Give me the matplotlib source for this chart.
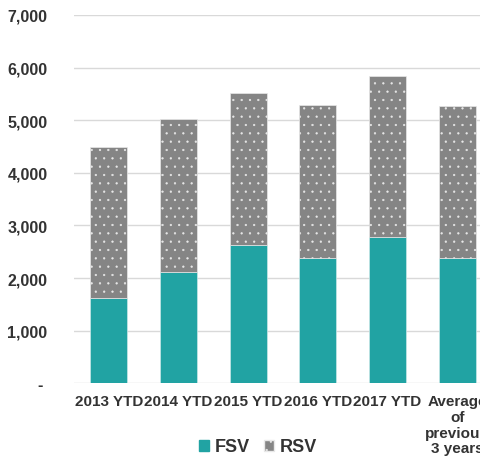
import matplotlib
matplotlib.use("Agg")
import matplotlib.pyplot as plt
from matplotlib.patches import Patch
import numpy as np

categories = ["2013 YTD", "2014 YTD", "2015 YTD", "2016 YTD", "2017 YTD",
              "Average\nof\nprevious\n3 years"]
fsv = [1623, 2117, 2637, 2378, 2789, 2377]
rsv = [2877, 2911, 2872, 2903, 3043, 2896]
yticks = [0, 1000, 2000, 3000, 4000, 5000, 6000, 7000]
ytick_labels = ["- ", "1,000", "2,000", "3,000", "4,000", "5,000", "6,000", "7,000"]

plt.rcParams['font.family'] = ['Liberation Sans', 'DejaVu Sans']
plt.rcParams['hatch.linewidth'] = 0.4
teal = "#21A3A3"
grey = "#858585"
txt = "#333333"

fig = plt.figure(figsize=(4.81, 4.64), dpi=100)
ax = fig.add_axes([74/481, 79.7/464, (492-74)/481, (448-79.7)/464])

x = np.arange(len(categories))
w = 0.53
ax.bar(x, fsv, width=w, color=teal, edgecolor="#c8e8e8", linewidth=0.5, zorder=3)
ax.bar(x, rsv, width=w, bottom=fsv, color=grey, edgecolor="#e8e8e8",
       hatch="..", linewidth=0.5, zorder=3)

ax.set_xlim(-0.5, len(categories) - 0.5)
ax.set_ylim(0, 7000)
ax.set_yticks(yticks)
ax.set_yticklabels(ytick_labels, fontweight="bold")
ax.set_xticks(x)
ax.set_xticklabels(categories, linespacing=1.15, va="top", fontweight="bold")
for s in ax.spines.values():
    s.set_visible(False)
ax.grid(axis="y", color="#d9d9d9", linewidth=1.0, zorder=0)
ax.tick_params(axis="y", length=0, pad=19, labelsize=11.5, labelcolor=txt)
ax.tick_params(axis="x", length=0, pad=8, labelsize=11, labelcolor=txt)
ax.set_axisbelow(True)

handles = [Patch(facecolor=teal, edgecolor=teal, label="FSV"),
           Patch(facecolor=grey, edgecolor="#e8e8e8", hatch="..", label="RSV")]
leg = fig.legend(handles=handles, loc="center", bbox_to_anchor=(258/481, 1 - 448/464),
                 ncol=2, frameon=False, prop={"size": 13, "weight": "bold"},
                 handlelength=0.55, handleheight=0.55,
                 handletextpad=0.3, columnspacing=0.8)
for t in leg.get_texts():
    t.set_color(txt)

fig.savefig("out.png", dpi=100)
